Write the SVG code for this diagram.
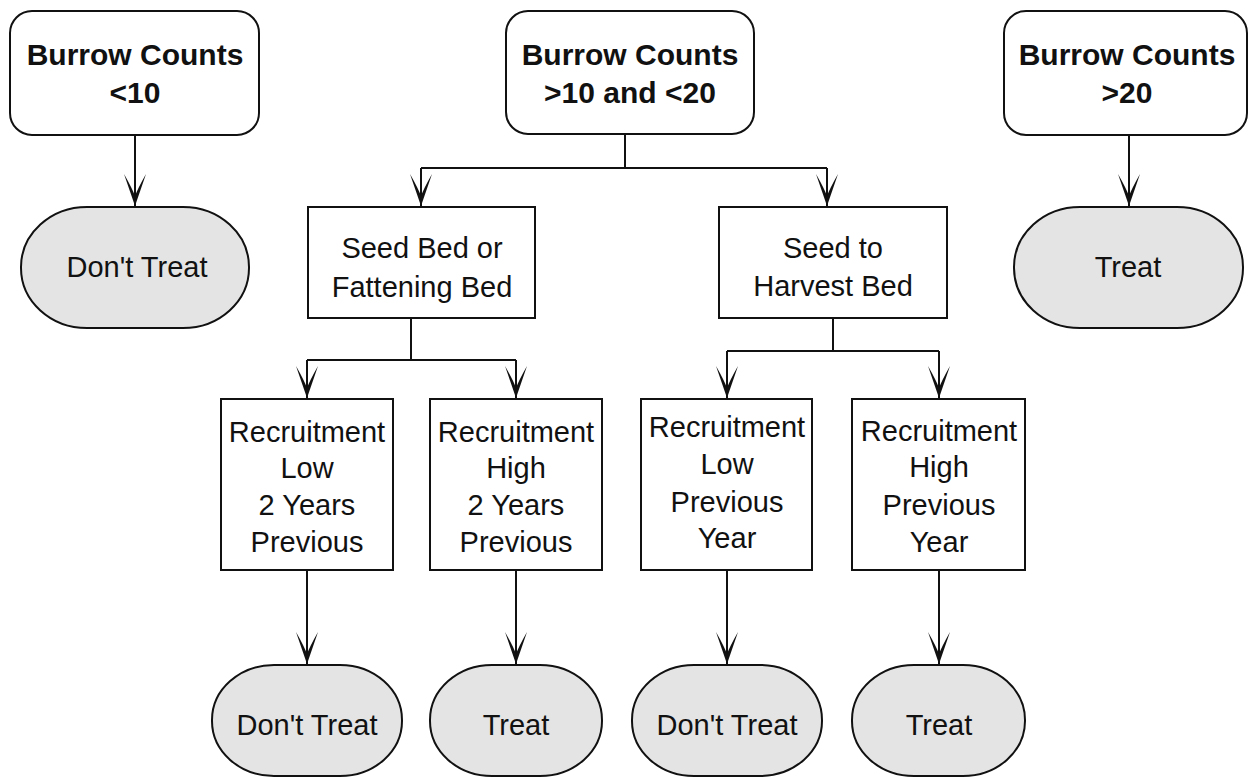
<svg xmlns="http://www.w3.org/2000/svg" width="1249" height="778" viewBox="0 0 1249 778">
<defs>
<style>
.box{fill:#fff;stroke:#111;stroke-width:2}
.term{fill:#e4e4e4;stroke:#111;stroke-width:2}
.b{font-family:"Liberation Sans",Arial,sans-serif;font-weight:bold;font-size:30px;fill:#111;text-anchor:middle}
.r{font-family:"Liberation Sans",Arial,sans-serif;font-size:29px;fill:#111;text-anchor:middle}
.ln{fill:none;stroke:#111;stroke-width:2}
</style>
<marker id="ah" markerUnits="userSpaceOnUse" markerWidth="36" markerHeight="28" viewBox="-34 -14 36 28" refX="0" refY="0" orient="auto">
<path d="M0,0 L-32,-11 Q-18,-3 -10,0 Q-18,3 -32,11 Z" fill="#111"/>
</marker>
</defs>
<rect width="1249" height="778" fill="#fff"/>
<g id="connectors">
<path class="ln" d="M135,135 V206" marker-end="url(#ah)"/>
<path class="ln" d="M1129,135 V206" marker-end="url(#ah)"/>
<path class="ln" d="M625,133 V168 M421,168 H827"/>
<path class="ln" d="M421,168 V206" marker-end="url(#ah)"/>
<path class="ln" d="M827,168 V206" marker-end="url(#ah)"/>
<path class="ln" d="M411,318 V360 M307,360 H516"/>
<path class="ln" d="M307,360 V398" marker-end="url(#ah)"/>
<path class="ln" d="M516,360 V398" marker-end="url(#ah)"/>
<path class="ln" d="M833,318 V351 M727,351 H939"/>
<path class="ln" d="M727,351 V398" marker-end="url(#ah)"/>
<path class="ln" d="M939,351 V398" marker-end="url(#ah)"/>
<path class="ln" d="M307,570 V664" marker-end="url(#ah)"/>
<path class="ln" d="M516,570 V664" marker-end="url(#ah)"/>
<path class="ln" d="M727,570 V664" marker-end="url(#ah)"/>
<path class="ln" d="M939,570 V664" marker-end="url(#ah)"/>
</g>
<g id="bc-low">
<rect class="box" x="10" y="11" width="249" height="124" rx="22"/>
<text class="b" x="135" y="65">Burrow Counts</text>
<text class="b" x="135" y="103">&lt;10</text>
</g>
<g id="bc-mid">
<rect class="box" x="506" y="11" width="248" height="123" rx="22"/>
<text class="b" x="630" y="65">Burrow Counts</text>
<text class="b" x="630" y="103">&gt;10 and &lt;20</text>
</g>
<g id="bc-high">
<rect class="box" x="1004" y="11" width="243" height="124" rx="22"/>
<text class="b" x="1127" y="65">Burrow Counts</text>
<text class="b" x="1127" y="103">&gt;20</text>
</g>
<g id="dt-top">
<rect class="term" x="21" y="207" width="228" height="121" rx="66" ry="60"/>
<text class="r" x="137" y="277">Don't Treat</text>
</g>
<g id="t-top">
<rect class="term" x="1014" y="207" width="229" height="121" rx="66" ry="60"/>
<text class="r" x="1128" y="277">Treat</text>
</g>
<g id="seed-bed">
<rect class="box" x="308" y="207" width="227" height="111"/>
<text class="r" x="422" y="258">Seed Bed or</text>
<text class="r" x="422" y="297">Fattening Bed</text>
</g>
<g id="seed-harvest">
<rect class="box" x="719" y="207" width="228" height="111"/>
<text class="r" x="833" y="258">Seed to</text>
<text class="r" x="833" y="296">Harvest Bed</text>
</g>
<g id="rec-low-2">
<rect class="box" x="221" y="399" width="172" height="171"/>
<text class="r" x="307" y="442">Recruitment</text>
<text class="r" x="307" y="478">Low</text>
<text class="r" x="307" y="515">2 Years</text>
<text class="r" x="307" y="552">Previous</text>
</g>
<g id="rec-high-2">
<rect class="box" x="430" y="399" width="172" height="171"/>
<text class="r" x="516" y="442">Recruitment</text>
<text class="r" x="516" y="478">High</text>
<text class="r" x="516" y="515">2 Years</text>
<text class="r" x="516" y="552">Previous</text>
</g>
<g id="rec-low-1">
<rect class="box" x="641" y="399" width="171" height="171"/>
<text class="r" x="727" y="437">Recruitment</text>
<text class="r" x="727" y="474">Low</text>
<text class="r" x="727" y="512">Previous</text>
<text class="r" x="727" y="548">Year</text>
</g>
<g id="rec-high-1">
<rect class="box" x="852" y="399" width="173" height="171"/>
<text class="r" x="939" y="441">Recruitment</text>
<text class="r" x="939" y="477">High</text>
<text class="r" x="939" y="515">Previous</text>
<text class="r" x="939" y="552">Year</text>
</g>
<g id="dt-1">
<rect class="term" x="212" y="665" width="190" height="111" rx="62" ry="55"/>
<text class="r" x="307" y="735">Don't Treat</text>
</g>
<g id="t-1">
<rect class="term" x="430" y="665" width="172" height="111" rx="62" ry="55"/>
<text class="r" x="516" y="735">Treat</text>
</g>
<g id="dt-2">
<rect class="term" x="632" y="665" width="190" height="111" rx="62" ry="55"/>
<text class="r" x="727" y="735">Don't Treat</text>
</g>
<g id="t-2">
<rect class="term" x="852" y="665" width="173" height="111" rx="62" ry="55"/>
<text class="r" x="939" y="735">Treat</text>
</g>
</svg>
